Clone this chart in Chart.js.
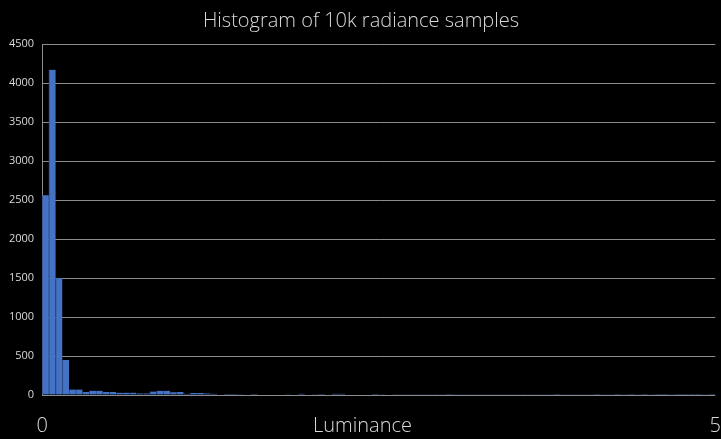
<!DOCTYPE html>
<html>
<head>
<meta charset="utf-8">
<script src="https://cdn.jsdelivr.net/npm/chart.js@4.4.1/dist/chart.umd.min.js"></script>
<style>
  html, body { margin: 0; padding: 0; background: #000; }
  #wrap { width: 721px; height: 439px; }
</style>
</head>
<body>
<div id="wrap"><canvas id="c" width="721" height="439"></canvas></div>
<script>
// Histogram bins: 100 bins of width 0.05 over Luminance 0..5
const binWidth = 0.05;
const binCounts = [
  2560, 4170, 1500, 450, 70, 70, 40, 55, 55, 40,
  40, 30, 30, 30, 20, 20, 45, 55, 55, 35,
  40, 15, 25, 25, 20, 15, 8, 12, 12, 10,
  6, 12, 8, 8, 8, 6, 4, 5, 15, 5,
  4, 12, 5, 15, 15, 5, 8, 8, 7, 12,
  4, 8, 3, 3, 4, 3, 3, 4, 9, 3,
  14, 3, 2, 3, 3, 2, 3, 2, 10, 2,
  3, 2, 3, 10, 2, 3, 12, 2, 3, 2,
  2, 2, 1, 2, 2, 1, 2, 1, 2, 1,
  2, 1, 1, 2, 1, 1, 1, 1, 2, 1
];
const xTickValues = [0, 5];
const yTickMax = 4500;
const yTickStep = 500;
const titleText = 'Histogram of 10k radiance samples';
const xTitleText = 'Luminance';

const points = binCounts.map((v, i) => ({ x: (i + 0.5) * binWidth, y: v }));

const FONT = '"Open Sans", "Noto Sans", sans-serif';
const TXT = '#d9d9d9';
const GRID = '#8c8c8c';

// Draws the x-axis title on the same line as the x tick labels (as in the reference)
const xTitleInline = {
  id: 'xTitleInline',
  afterDraw(chart) {
    const ctx = chart.ctx;
    const xs = chart.scales.x;
    ctx.save();
    ctx.font = '300 20px ' + FONT;
    ctx.fillStyle = TXT;
    ctx.textAlign = 'center';
    ctx.textBaseline = 'middle';
    ctx.fillText(xTitleText, chart.width / 2 + 2, xs.bottom - 12);
    ctx.restore();
  }
};

new Chart(document.getElementById('c'), {
  type: 'bar',
  data: {
    datasets: [{
      data: points,
      backgroundColor: '#4472C4',
      borderColor: '#2c4f8c',
      borderWidth: { left: 1, right: 0, top: 0, bottom: 0 },
      borderSkipped: false,
      categoryPercentage: 1,
      barPercentage: 1
    }]
  },
  plugins: [xTitleInline],
  options: {
    responsive: false,
    animation: false,
    layout: { padding: { left: 1, right: 0, top: 0, bottom: 1 } },
    plugins: {
      legend: { display: false },
      tooltip: { enabled: false },
      title: {
        display: true,
        text: titleText,
        color: TXT,
        font: { family: FONT, size: 20, weight: '300' },
        padding: { top: 9, bottom: 11 }
      }
    },
    scales: {
      x: {
        type: 'linear',
        min: 0,
        max: 5,
        offset: false,
        afterBuildTicks: (s) => { s.ticks = xTickValues.map(v => ({ value: v })); },
        grid: { display: true, drawOnChartArea: false, drawTicks: true, tickLength: 19, color: 'rgba(0,0,0,0)' },
        border: { display: false },
        ticks: {
          color: TXT,
          font: { family: FONT, size: 20, weight: '300' },
          padding: 0,
          maxRotation: 0,
          autoSkip: false
        }
      },
      y: {
        min: 0,
        max: yTickMax,
        ticks: {
          stepSize: yTickStep,
          color: TXT,
          font: { family: FONT, size: 11 },
          padding: 8,
          callback: (v) => String(v)
        },
        grid: { color: GRID, lineWidth: 1, drawTicks: false },
        border: { display: true, color: GRID, width: 1 }
      }
    }
  }
});
</script>
</body>
</html>
